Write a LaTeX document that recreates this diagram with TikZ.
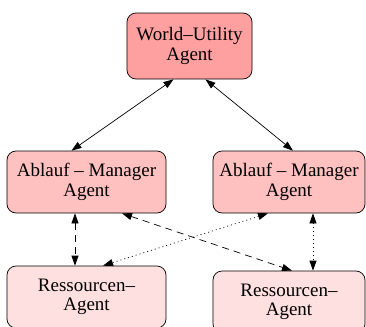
\documentclass[tikz,border=0pt]{standalone}
\usepackage{fontspec}
\setmainfont{Liberation Serif}
\usetikzlibrary{arrows.meta}
\definecolor{topfill}{HTML}{FFA0A0}
\definecolor{midfill}{HTML}{FFC0C0}
\definecolor{lowfill}{HTML}{FFE0E0}
\begin{document}
\begin{tikzpicture}[x=1bp,y=-1bp,
  agent/.style={draw=black, line width=0.7bp, rounded corners=9bp, inner sep=0pt,
    align=center, font=\fontsize{19bp}{19.5bp}\selectfont},
  link/.style={line width=0.7bp, {Triangle[length=10bp,width=7bp]}-{Triangle[length=10bp,width=7bp]}},
  dashlink/.style={link, dash pattern=on 7bp off 5bp},
  dotlink/.style={link, dash pattern=on 1bp off 3bp}]
\useasboundingbox (0,0) rectangle (366,327);
\clip (0,0) rectangle (366,327);

% agents
\node[agent, fill=topfill, minimum width=125bp, minimum height=66bp] (world) at (189.5,46) {World--Utility\\Agent};
\node[agent, fill=midfill, minimum width=159bp, minimum height=62bp] (mgrL) at (86.5,182) {Ablauf -- Manager\\Agent};
\node[agent, fill=midfill, minimum width=152bp, minimum height=62bp] (mgrR) at (289,182) {Ablauf -- Manager\\Agent};
\node[agent, fill=lowfill, minimum width=159bp, minimum height=62bp] (resL) at (86.5,297) {Ressourcen--\\Agent};
\node[agent, fill=lowfill, minimum width=152bp, minimum height=62bp] (resR) at (289,302) {Ressourcen--\\Agent};

% world agent to managers
\draw[link] ([xshift=-16bp]world.south) -- ([xshift=-15bp]mgrL.north);
\draw[link] ([xshift=16bp]world.south) -- ([xshift=4bp]mgrR.north);

% managers to resource agents
\draw[dashlink] ([xshift=-11.5bp]mgrL.south) -- ([xshift=-11.5bp]resL.north);
\draw[dotlink] ([xshift=24bp]mgrR.south) -- ([xshift=24bp]resR.north);
\draw[dashlink] ([xshift=35.5bp]mgrL.south) -- ([xshift=3bp]resR.north);
\draw[dotlink] ([xshift=-21bp]mgrR.south) -- ([xshift=16.5bp]resL.north);
\end{tikzpicture}
\end{document}
